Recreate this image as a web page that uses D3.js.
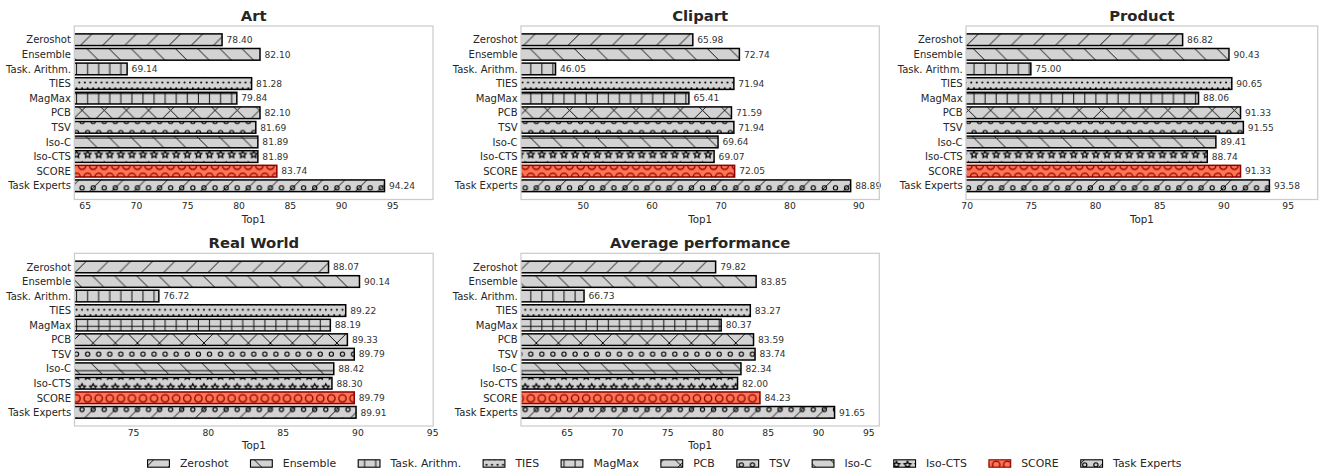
<!DOCTYPE html>
<html>
<head>
<meta charset="utf-8">
<script src="https://cdn.jsdelivr.net/npm/d3@7"></script>
<style>
  body { margin: 0; background: #ffffff; }
  svg { display: block; }
  text { font-family: "DejaVu Sans", sans-serif; }
</style>
</head>
<body>
<svg id="chart" width="1329" height="475"></svg>
<script>
// ---- data -------------------------------------------------------------
const methods = ["Zeroshot", "Ensemble", "Task. Arithm.", "TIES", "MagMax", "PCB",
                 "TSV", "Iso-C", "Iso-CTS", "SCORE", "Task Experts"];
const hatches = ["/", "\\", "|", "..", "+", "x", "o", "\\-", "*", "O", "o/"];

const panelTitles = ["Art", "Clipart", "Product", "Real World", "Average performance"];

const artTop1      = [78.40, 82.10, 69.14, 81.28, 79.84, 82.10, 81.69, 81.89, 81.89, 83.74, 94.24];
const clipartTop1  = [65.98, 72.74, 46.05, 71.94, 65.41, 71.59, 71.94, 69.64, 69.07, 72.05, 88.89];
const productTop1  = [86.82, 90.43, 75.00, 90.65, 88.06, 91.33, 91.55, 89.41, 88.74, 91.33, 93.58];
const realWorldTop1 = [88.07, 90.14, 76.72, 89.22, 88.19, 89.33, 89.79, 88.42, 88.30, 89.79, 89.91];
const averageTop1  = [79.82, 83.85, 66.73, 83.27, 80.37, 83.59, 83.74, 82.34, 82.00, 84.23, 91.65];

const xRanges = [[63.99, 98.97], [41.04, 93.05], [69.95, 97.34], [71.08, 95.07], [60.46, 96.10]];
const xTicks = [
  [65, 70, 75, 80, 85, 90, 95],
  [50, 60, 70, 80, 90],
  [70, 75, 80, 85, 90, 95],
  [75, 80, 85, 90, 95],
  [65, 70, 75, 80, 85, 90, 95]
];
const panelValues = [artTop1, clipartTop1, productTop1, realWorldTop1, averageTop1];

// ---- layout / style ---------------------------------------------------
const W = 1329, H = 475;
const frames = [
  { x0: 74.3, x1: 433.0, y0: 26.0, y1: 199.5 },
  { x0: 521.0, x1: 879.3, y0: 26.0, y1: 199.5 },
  { x0: 966.0, x1: 1317.7, y0: 26.0, y1: 199.5 },
  { x0: 74.5, x1: 433.2, y0: 253.3, y1: 426.0 },
  { x0: 521.0, x1: 879.3, y0: 253.3, y1: 426.0 }
];
const GREY = "#d3d3d3", INK = "#000000";
const SCORE_FILL = "#ff7452", SCORE_INK = "#8b0000";
const TEXT = "#262626";

// hatch tile: 6 lines per tile, tiled from a fixed canvas origin
const T = 66.48, OX = 4.5, OY = 10.6, HLW = 0.92;

const svg = d3.select("#chart");
const defs = svg.append("defs");

function count(spec, ch) { return spec.split(ch).length - 1; }

function makeHatch(id, spec, fill, ink) {
  const p = defs.append("pattern")
    .attr("id", id)
    .attr("patternUnits", "userSpaceOnUse")
    .attr("x", OX).attr("y", OY)
    .attr("width", T).attr("height", T);
  p.append("rect").attr("width", T).attr("height", T).attr("fill", fill);
  const g = p.append("g").attr("stroke", ink).attr("stroke-width", HLW)
    .attr("fill", "none").attr("stroke-linecap", "square");

  const nNE = (count(spec, "/") + count(spec, "x")) * 6;
  for (let k = 0; k <= nNE && nNE; k++) {
    const d = k * 2 * T / nNE;
    g.append("line").attr("x1", d).attr("y1", 0).attr("x2", d - T).attr("y2", T);
  }
  const nSE = (count(spec, "\\") + count(spec, "x")) * 6;
  for (let k = 0; k <= nSE && nSE; k++) {
    const d = -T + k * 2 * T / nSE;
    g.append("line").attr("x1", d).attr("y1", 0).attr("x2", d + T).attr("y2", T);
  }
  const nV = (count(spec, "|") + count(spec, "+")) * 6;
  for (let k = 0; k < nV; k++) {
    const x = (k + 0.5) * T / nV;
    g.append("line").attr("x1", x).attr("y1", -1).attr("x2", x).attr("y2", T + 1);
  }
  const nH = (count(spec, "-") + count(spec, "+")) * 6;
  for (let k = 0; k < nH; k++) {
    const y = (k + 0.5) * T / nH;
    g.append("line").attr("x1", -1).attr("y1", y).attr("x2", T + 1).attr("y2", y);
  }

  function grid(numRows, size, draw) {
    if (!numRows) return;
    const off = T / numRows;
    for (let m = 0; m <= numRows; m++) {
      const y = m * off;
      if (m % 2 === 0) {
        for (let j = 0; j <= numRows; j++) draw(j * off, y, off * size);
      } else {
        for (let j = 0; j < numRows; j++) draw(off / 2 + j * off, y, off * size);
      }
    }
  }
  // small circles
  grid(count(spec, "o") * 6, 0.2, (x, y, r) => {
    g.append("circle").attr("cx", x).attr("cy", y).attr("r", r * 0.95)
      .attr("stroke-width", HLW + 0.1 * r);
  });
  // large circles
  grid(count(spec, "O") * 6, 0.35, (x, y, r) => {
    g.append("circle").attr("cx", x).attr("cy", y).attr("r", r * 0.95)
      .attr("stroke-width", HLW + 0.1 * r);
  });
  // dots
  grid(count(spec, ".") * 6, 0.1, (x, y, r) => {
    g.append("circle").attr("cx", x).attr("cy", y).attr("r", r + HLW / 2)
      .attr("fill", ink).attr("stroke", "none");
  });
  // five-pointed stars
  grid(count(spec, "*") * 6, 1 / 3, (x, y, r) => {
    const pts = d3.range(10).map(i => {
      const th = Math.PI / 5 * i + Math.PI / 2;
      const rr = (i % 2 === 0 ? 1 : 0.5) * r * 0.95;
      return [x + rr * Math.cos(th), y - rr * Math.sin(th)];
    });
    g.append("polygon").attr("points", pts.map(p => p.join(",")).join(" "))
      .attr("stroke-width", HLW + 0.1 * r).attr("stroke-linejoin", "miter");
  });
}

methods.forEach((m, i) => {
  const isScore = m === "SCORE";
  makeHatch("h" + i, hatches[i], isScore ? SCORE_FILL : GREY, isScore ? SCORE_INK : INK);
});
const edgeOf = m => m === "SCORE" ? SCORE_INK : INK;

// ---- panels -----------------------------------------------------------
panelTitles.forEach((title, p) => {
  const f = frames[p];
  const values = panelValues[p];
  const x = d3.scaleLinear().domain(xRanges[p]).range([f.x0, f.x1]);
  const y = d3.scaleLinear().domain([-0.94, 10.94]).range([f.y0, f.y1]);
  const barH = y(0.4) - y(-0.4);

  defs.append("clipPath").attr("id", "clip" + p)
    .append("rect").attr("x", f.x0).attr("y", f.y0)
    .attr("width", f.x1 - f.x0).attr("height", f.y1 - f.y0);

  const bars = svg.append("g").attr("clip-path", `url(#clip${p})`);
  bars.selectAll("rect")
    .data(values)
    .join("rect")
    .attr("x", x(0))
    .attr("y", (d, i) => y(i) - barH / 2)
    .attr("width", d => x(d) - x(0))
    .attr("height", barH)
    .attr("fill", (d, i) => `url(#h${i})`)
    .attr("stroke", (d, i) => edgeOf(methods[i]))
    .attr("stroke-width", 1.5);

  // value labels
  svg.append("g").selectAll("text")
    .data(values)
    .join("text")
    .attr("x", d => x(d) + 4.5)
    .attr("y", (d, i) => y(i))
    .attr("dy", "0.36em")
    .attr("font-size", 9.1)
    .attr("fill", "#333333")
    .text(d => d.toFixed(2));

  // frame
  svg.append("rect")
    .attr("x", f.x0).attr("y", f.y0)
    .attr("width", f.x1 - f.x0).attr("height", f.y1 - f.y0)
    .attr("fill", "none").attr("stroke", "#cccccc").attr("stroke-width", 1.25);

  // x axis
  const xa = svg.append("g").attr("transform", `translate(0,${f.y1})`)
    .call(d3.axisBottom(x).tickValues(xTicks[p]).tickFormat(d3.format("d"))
      .tickSize(0).tickPadding(3.3));
  xa.select(".domain").remove();
  xa.selectAll("text").attr("font-size", 9.2).attr("fill", TEXT)
    .attr("font-family", "DejaVu Sans");

  // y axis
  const ya = svg.append("g").attr("transform", `translate(${f.x0},0)`)
    .call(d3.axisLeft(y).tickValues(d3.range(methods.length))
      .tickFormat(i => methods[i]).tickSize(0).tickPadding(3.4));
  ya.select(".domain").remove();
  ya.selectAll("text").attr("font-size", 10).attr("fill", TEXT)
    .attr("font-family", "DejaVu Sans");

  // axis title and panel title
  svg.append("text")
    .attr("x", (f.x0 + f.x1) / 2).attr("y", f.y1 + 23)
    .attr("text-anchor", "middle").attr("font-size", 10.3).attr("fill", TEXT)
    .text("Top1");
  svg.append("text")
    .attr("x", (f.x0 + f.x1) / 2).attr("y", f.y0 - 5.3)
    .attr("text-anchor", "middle").attr("font-size", 14.8)
    .attr("font-weight", "bold").attr("fill", TEXT)
    .text(title);
});

// ---- legend -----------------------------------------------------------
const legFont = 10.9, handleW = 21.8, handleH = 7.4, textPad = 10.5, colGap = 22;
const legY = 463.5;
const legend = svg.append("g");
const items = legend.selectAll("g").data(methods).join("g");
items.append("text")
  .attr("font-size", legFont).attr("fill", TEXT).attr("dy", "0.36em")
  .text(d => d);
const widths = items.nodes().map(n => n.querySelector("text").getComputedTextLength());
const total = d3.sum(widths) + methods.length * (handleW + textPad) + (methods.length - 1) * colGap;
let cx = W / 2 - total / 2;
items.each(function (d, i) {
  const g = d3.select(this);
  g.insert("rect", "text")
    .attr("x", cx).attr("y", legY - handleH / 2)
    .attr("width", handleW).attr("height", handleH)
    .attr("fill", `url(#h${i})`).attr("stroke", edgeOf(d)).attr("stroke-width", 1.1);
  g.select("text").attr("x", cx + handleW + textPad).attr("y", legY);
  cx += handleW + textPad + widths[i] + colGap;
});
</script>
</body>
</html>
